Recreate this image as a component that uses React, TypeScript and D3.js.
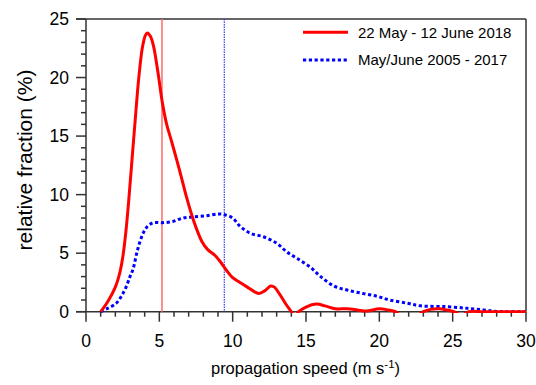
import React from "react";
import * as d3 from "d3";

// ---- data ----
const redX = [1.0, 1.5, 2.0, 2.3, 2.5, 2.7, 2.9, 3.1, 3.35, 3.6, 3.85, 4.05, 4.18, 4.4, 4.6, 4.9, 5.2, 5.5, 5.8, 6.2, 6.5, 6.85, 7.2, 7.5, 7.9, 8.3, 8.8, 9.2, 9.6, 10.0, 10.5, 11.0, 11.5, 11.8, 12.2, 12.6, 12.85, 13.2, 13.6, 14.0, 14.25, 14.5, 15.0, 15.7, 16.3, 17.0, 17.8, 18.5, 19.1, 20.0, 20.6, 21.1, 21.5, 22.0, 22.5, 23.0, 23.5, 24.1, 24.6, 25.1, 25.6, 26.1, 27, 28, 29, 30];
const redY = [0, 0.9, 2.1, 3.3, 4.6, 6.6, 9.3, 12.4, 16.3, 20.0, 22.6, 23.6, 23.8, 23.5, 22.7, 20.5, 17.9, 16.0, 14.7, 12.9, 11.5, 9.8, 8.3, 7.2, 6.0, 5.3, 4.8, 4.2, 3.5, 2.9, 2.5, 2.1, 1.7, 1.55, 1.8, 2.2, 2.1, 1.5, 0.7, 0.0, -0.4, 0.0, 0.4, 0.65, 0.5, 0.25, 0.25, 0.15, 0.05, 0.25, 0.15, 0.0, -0.4, -0.5, -0.4, 0.0, 0.2, 0.25, 0.15, 0.0, -0.3, 0.0, 0, 0, 0, 0];

const blueX = [1.0, 1.5, 2.05, 2.4, 2.73, 3.0, 3.2, 3.5, 3.86, 4.2, 4.6, 5.2, 5.9, 6.6, 7.3, 8.2, 9.0, 9.4, 10.0, 10.5, 11.2, 12.1, 13.0, 13.7, 14.4, 15.3, 16.0, 16.9, 17.8, 18.9, 19.9, 20.7, 21.9, 22.8, 24.6, 26.0, 27.1, 27.8, 28.5, 30];
const blueY = [0, 0.3, 0.7, 1.3, 2.1, 3.0, 3.6, 5.2, 6.6, 7.3, 7.6, 7.6, 7.7, 8.0, 8.1, 8.2, 8.35, 8.3, 8.0, 7.3, 6.7, 6.4, 5.85, 5.1, 4.55, 3.8, 3.0, 2.2, 1.85, 1.55, 1.3, 1.0, 0.72, 0.5, 0.43, 0.29, 0.15, 0.05, 0, 0];

const redMean = 5.18;
const blueMean = 9.43;

const xTicks = [0, 5, 10, 15, 20, 25, 30];
const yTicks = [0, 5, 10, 15, 20, 25];
const legendLabels = ["22 May - 12 June 2018", "May/June 2005 - 2017"];

const W = 536;
const H = 385;
const margin = { left: 86, right: 10, top: 19, bottom: 73.3 };

export default function App() {
  const x = d3.scaleLinear().domain([0, 30]).range([margin.left, W - margin.right]);
  const y = d3.scaleLinear().domain([0, 25]).range([H - margin.bottom, margin.top]);
  const line = d3
    .line<[number, number]>()
    .x((d) => x(d[0]))
    .y((d) => y(d[1]))
    .curve(d3.curveCatmullRom.alpha(0.5));
  const redPts = redX.map((v, i) => [v, redY[i]] as [number, number]);
  const bluePts = blueX.map((v, i) => [v, blueY[i]] as [number, number]);
  const minorX = d3.range(0, 31);
  const minorY = d3.range(0, 26);
  const axisColor = "#333";
  const font = "Arial, 'Liberation Sans', sans-serif";
  const x0 = x(0), x1 = x(30), yb = y(0), yt = y(25);

  return (
    <svg width={W} height={H} style={{ position: "absolute", left: 0, top: 0, background: "#fff" }} fontFamily={font}>
      <defs>
        <clipPath id="plotclip">
          <rect x={x0} y={yt} width={x1 - x0} height={yb - yt + 1.2} />
        </clipPath>
      </defs>
      {/* frame */}
      <line x1={x0 - 10} x2={x1} y1={yt} y2={yt} stroke={axisColor} strokeWidth={1.5} />
      <line x1={x1} x2={x1} y1={yt} y2={yb} stroke={axisColor} strokeWidth={1.5} />
      <line x1={x0} x2={x0} y1={yt} y2={yb} stroke={axisColor} strokeWidth={1.5} />
      <line x1={x0 - 10} x2={x1} y1={yb} y2={yb} stroke={axisColor} strokeWidth={1.5} />
      {/* ticks */}
      {minorX.map((v) => (
        <line key={"mx" + v} x1={x(v)} x2={x(v)} y1={yb} y2={yb + (v % 5 === 0 ? 10 : 5)} stroke={axisColor} strokeWidth={1.5} />
      ))}
      {minorY.map((v) => (
        <line key={"my" + v} x1={x0} x2={x0 - (v % 5 === 0 ? 10 : 5)} y1={y(v)} y2={y(v)} stroke={axisColor} strokeWidth={1.5} />
      ))}
      {xTicks.map((v) => (
        <text key={"xt" + v} x={x(v)} y={yb + 35.5} textAnchor="middle" fontSize={17.5}>
          {v}
        </text>
      ))}
      {yTicks.map((v) => (
        <text key={"yt" + v} x={x0 - 17} y={y(v)} dy="0.36em" textAnchor="end" fontSize={17.5}>
          {v}
        </text>
      ))}
      {/* titles */}
      <text x={305.5} y={373.5} textAnchor="middle" fontSize={16.5}>
        propagation speed (m s<tspan dy={-6} fontSize={11.5}>-1</tspan>
        <tspan dy={6}>)</tspan>
      </text>
      <text transform={`translate(32,160) rotate(-90)`} textAnchor="middle" fontSize={21}>
        relative fraction (%)
      </text>
      {/* mean lines */}
      <line x1={x(redMean)} x2={x(redMean)} y1={yt} y2={yb} stroke="#ff6a6a" strokeWidth={1.5} />
      <line x1={x(blueMean)} x2={x(blueMean)} y1={yt} y2={yb} stroke="#3a3aff" strokeWidth={1.2} strokeDasharray="1.5,1" />
      {/* curves */}
      <g clipPath="url(#plotclip)">
        <path d={line(bluePts) || ""} fill="none" stroke="#0000ff" strokeWidth={3} strokeDasharray="3.2,2.6" />
        <path d={line(redPts) || ""} fill="none" stroke="#ff0000" strokeWidth={3} />
      </g>
      {/* legend */}
      <line x1={303} x2={348} y1={32.3} y2={32.3} stroke="#ff0000" strokeWidth={3} />
      <text x={358} y={32.3} dy="0.36em" fontSize={15}>{legendLabels[0]}</text>
      <line x1={303} x2={348} y1={60} y2={60} stroke="#0000ff" strokeWidth={3} strokeDasharray="3.2,2.6" />
      <text x={358} y={60} dy="0.36em" fontSize={15}>{legendLabels[1]}</text>
    </svg>
  );
}
